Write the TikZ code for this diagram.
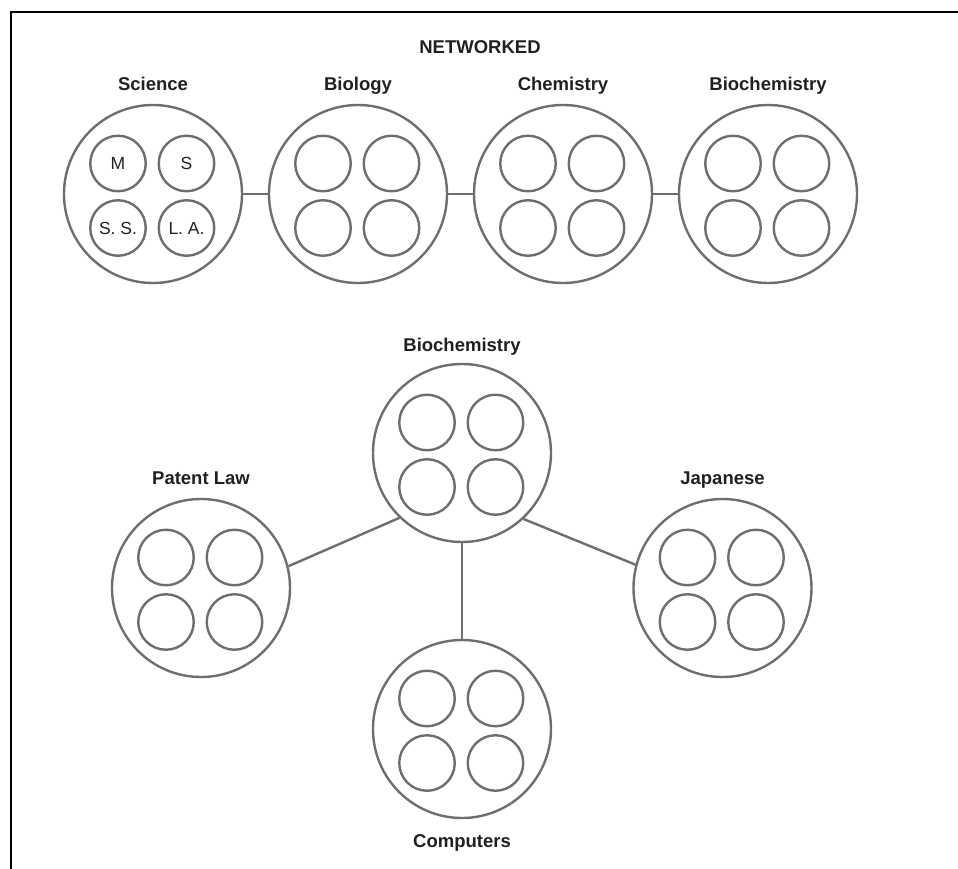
\documentclass[tikz,border=0pt]{standalone}
\usepackage{fontspec}
\setmainfont{Liberation Sans}
\usetikzlibrary{calc}
\definecolor{ring}{HTML}{6D6E71}
\definecolor{ink}{HTML}{231F20}
\tikzset{
  bigring/.style={circle, draw=ring, line width=2.4pt, minimum size=178pt, inner sep=0pt},
  subring/.style={circle, draw=ring, line width=2.4pt, minimum size=55.5pt, inner sep=0pt,
    text=ink, font=\fontsize{17.5}{20}\selectfont},
  head/.style={anchor=base, text=ink, inner sep=0pt, font=\fontsize{18.5}{22}\bfseries},
  link/.style={draw=ring, line width=2.4pt},
  frame/.style={draw=black, line width=2pt}
}
% \topicunit{name}{x}{y}{text1}{text2}{text3}{text4}
\newcommand\topicunit[7]{%
  \node[bigring] (#1) at (#2,#3) {};
  \node[subring] (#1-1) at ($(#1)+(-35,-30.5)$) {#4};
  \node[subring] (#1-2) at ($(#1)+(33.5,-30.5)$) {#5};
  \node[subring] (#1-3) at ($(#1)+(-35,34)$) {#6};
  \node[subring] (#1-4) at ($(#1)+(33.5,34)$) {#7};
}
\begin{document}
\begin{tikzpicture}[x=1pt, y=-1pt]
  \useasboundingbox (0,0) rectangle (958,869);
  % open frame
  \coordinate (fr-bl) at (10.5,869);
  \coordinate (fr-tl) at (10.5,11.7);
  \coordinate (fr-tr) at (958,11.7);
  \draw[frame] (fr-bl) -- (fr-tl) -- (fr-tr);

  \node[head] (title) at (480,53.5) {NETWORKED};

  % chain of topics
  \topicunit{sci}{153}{194}{M}{S}{S. S.}{L. A.}
  \topicunit{bio}{358}{194}{}{}{}{}
  \topicunit{chem}{563}{194}{}{}{}{}
  \topicunit{bchA}{768}{194}{}{}{}{}
  \node[head] (sci-t) at (153,91) {Science};
  \node[head] (bio-t) at (358,91) {Biology};
  \node[head] (chem-t) at (563,91) {Chemistry};
  \node[head] (bchA-t) at (768,91) {Biochemistry};
  \draw[link] (sci) -- (bio);
  \draw[link] (bio) -- (chem);
  \draw[link] (chem) -- (bchA);

  % hub with spokes
  \topicunit{bchB}{462}{453}{}{}{}{}
  \topicunit{pat}{201}{588}{}{}{}{}
  \topicunit{jap}{722.5}{588}{}{}{}{}
  \topicunit{comp}{462}{729}{}{}{}{}
  \node[head] (bchB-t) at (462,351) {Biochemistry};
  \node[head] (pat-t) at (201,484) {Patent Law};
  \node[head] (jap-t) at (722.5,484) {Japanese};
  \node[head] (comp-t) at (462,847) {Computers};
  \draw[link] (pat.14.8) -- (bchB.226.4);
  \draw[link] (jap.165.9) -- (bchB.313.6);
  \draw[link] (bchB) -- (comp);
\end{tikzpicture}
\end{document}
